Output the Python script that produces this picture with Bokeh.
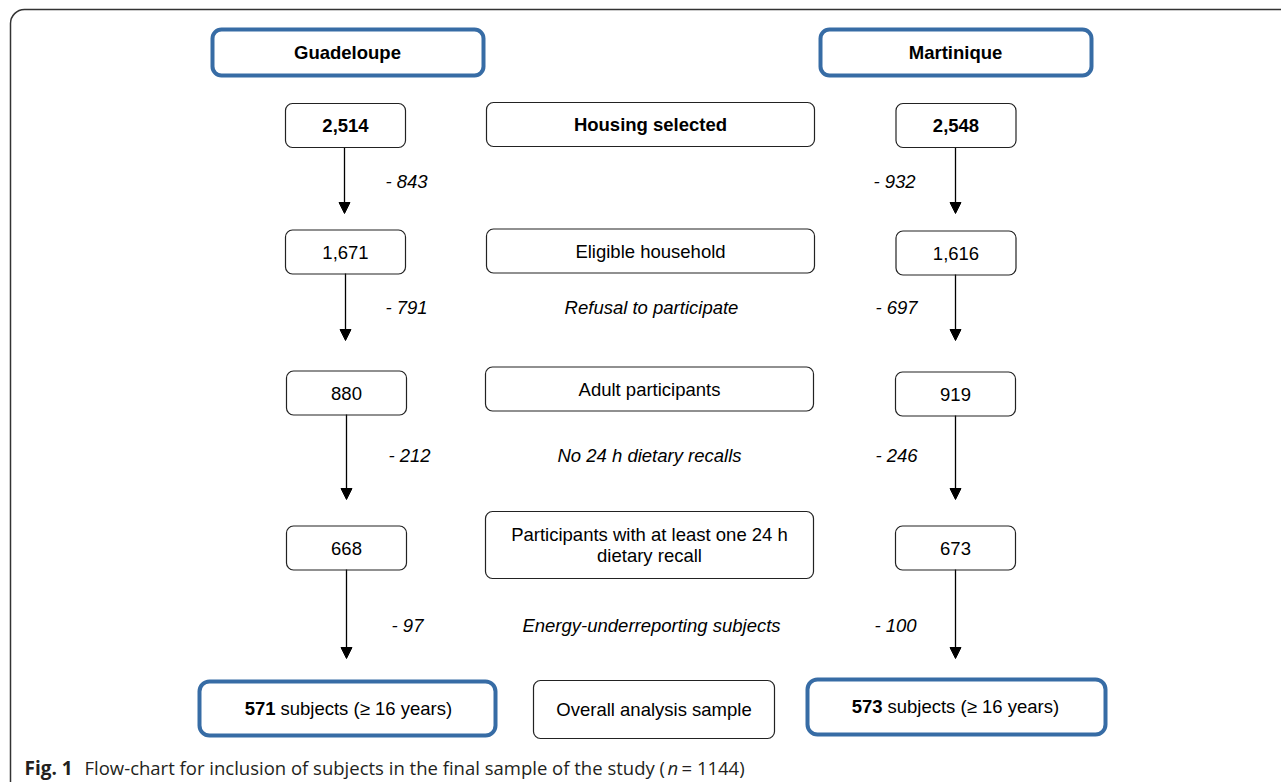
from bokeh.plotting import figure
from bokeh.models import Range1d, BoxAnnotation, Arrow, NormalHead, ColumnDataSource
from bokeh.core.properties import value
from bokeh.embed import file_html
from bokeh.resources import INLINE

# ---------------- data ----------------
regions = ["Guadeloupe", "Martinique"]
guadeloupe_counts = [2514, 1671, 880, 668, 571]
martinique_counts = [2548, 1616, 919, 673, 573]
guadeloupe_excluded = [843, 791, 212, 97]
martinique_excluded = [932, 697, 246, 100]
stage_labels = ["Housing selected", "Eligible household", "Adult participants",
                "Participants with at least one 24 h\ndietary recall", "Overall analysis sample"]
exclusion_reasons = ["", "Refusal to participate", "No 24 h dietary recalls",
                     "Energy-underreporting subjects"]
final_suffix = "subjects (\u2265 16 years)"
caption_bold = "Fig. 1"
caption_text = "Flow-chart for inclusion of subjects in the final sample of the study ("
caption_n = "n"
caption_end = "= 1144)"

# ---------------- layout (pixel-like coordinates, y downward) ----------------
W, H = 1281, 782
FONT = value("Liberation Sans")
FS = "18.5px"
BLUE = "#376ca5"

p = figure(width=W, height=H, output_backend="svg", toolbar_location=None,
           x_range=Range1d(0, W), y_range=Range1d(H, 0),
           min_border=0, outline_line_color=None, background_fill_color="white")
p.axis.visible = False
p.grid.visible = False

def box(l, r, t, b, color="#222222", lw=1.2, radius=7):
    p.add_layout(BoxAnnotation(left=l, right=r, top=t, bottom=b, fill_alpha=0,
                               fill_color=None, line_color=color, line_alpha=1.0,
                               line_width=lw, border_radius=radius, level="overlay"))

# outer frame
box(10, 1340, 9, 850, color="#333333", lw=1.5, radius=14)

# header boxes
header_x = [347, 955]
box(212, 483, 29, 75, color=BLUE, lw=4, radius=9)
box(820, 1091, 29, 75, color=BLUE, lw=4, radius=9)
p.text(x=header_x, y=[52, 52], text=regions, text_font=FONT, text_font_size=FS,
       text_font_style="bold", text_align="center", text_baseline="middle", text_color="black")

# count boxes
left_x = [345, 345, 346, 346]
left_y = [125, 251.5, 392.5, 547.5]
right_x = [955.5, 955.5, 955, 955]
right_y = [125, 252.5, 393.5, 547.5]
mid_x = [650, 650, 649, 649]
mid_y = [124, 250.5, 388.5, 544.5]
mid_h = [44, 44, 44, 67]
for i in range(4):
    box(left_x[i] - 60, left_x[i] + 60, left_y[i] - 22, left_y[i] + 22)
    box(right_x[i] - 60, right_x[i] + 60, right_y[i] - 22, right_y[i] + 22)
    box(mid_x[i] - 164, mid_x[i] + 164, mid_y[i] - mid_h[i] / 2, mid_y[i] + mid_h[i] / 2)

fmt = lambda v: f"{v:,}"
for i in range(4):
    style = "bold" if i == 0 else "normal"
    p.text(x=[left_x[i], right_x[i]], y=[left_y[i], right_y[i]],
           text=[fmt(guadeloupe_counts[i]), fmt(martinique_counts[i])],
           text_font=FONT, text_font_size=FS, text_font_style=style,
           text_align="center", text_baseline="middle", text_color="black")
    p.text(x=[mid_x[i]], y=[mid_y[i]], text=[stage_labels[i]], text_font=FONT,
           text_font_size=FS, text_font_style=style, text_align="center",
           text_baseline="middle", text_color="black", text_line_height=1.0)

# arrows
arrow_left_x = [344, 345, 346, 346]
arrow_right_x = [955, 955, 955, 955]
arrow_start = [[147, 273, 414, 569], [147, 274, 415, 569]]
arrow_end = [213, 340, 499, 658]
src = ColumnDataSource(dict(
    x0=arrow_left_x + arrow_right_x, x1=arrow_left_x + arrow_right_x,
    y0=arrow_start[0] + arrow_start[1], y1=arrow_end + arrow_end))
p.add_layout(Arrow(end=NormalHead(size=11, fill_color="black", line_color="black", line_width=1),
                   x_start="x0", y_start="y0", x_end="x1", y_end="y1", source=src,
                   line_color="black", line_width=1.3))

# exclusion numbers
excl_y = [181, 307, 455, 625]
excl_lx = [406, 406, 409, 407]
excl_rx = [894, 896, 896, 895]
p.text(x=excl_lx, y=excl_y, text=[f"- {v}" for v in guadeloupe_excluded], text_font=FONT,
       text_font_size=FS, text_font_style="italic", text_align="center",
       text_baseline="middle", text_color="black")
p.text(x=excl_rx, y=excl_y, text=[f"- {v}" for v in martinique_excluded], text_font=FONT,
       text_font_size=FS, text_font_style="italic", text_align="center",
       text_baseline="middle", text_color="black")
p.text(x=[651, 651, 649, 651], y=excl_y, text=exclusion_reasons, text_font=FONT,
       text_font_size=FS, text_font_style="italic", text_align="center",
       text_baseline="middle", text_color="black")

# final row
box(199, 495, 681, 735, color=BLUE, lw=4, radius=10)
box(807, 1105, 679, 734, color=BLUE, lw=4, radius=10)
box(533, 774, 680, 738)
p.text(x=[653.5], y=[709], text=[stage_labels[4]], text_font=FONT, text_font_size=FS,
       text_align="center", text_baseline="middle", text_color="black")
final_split = [275, 882]
final_y = [708, 706]
p.text(x=final_split, y=final_y, text=[str(guadeloupe_counts[4]), str(martinique_counts[4])],
       text_font=FONT, text_font_size=FS, text_font_style="bold", text_align="right",
       text_baseline="middle", text_color="black")
p.text(x=[s + 5 for s in final_split], y=final_y, text=[final_suffix, final_suffix], text_font=FONT,
       text_font_size=FS, text_align="left", text_baseline="middle", text_color="black")

# caption
CF = value("Open Sans")
CFS = "18.5px"
p.text(x=[24], y=[767], text=[caption_bold], text_font=CF, text_font_size="19px",
       text_font_style="bold", text_align="left", text_baseline="middle", text_color="#231f20")
p.text(x=[84], y=[767], text=[caption_text], text_font=CF, text_font_size=CFS,
       text_align="left", text_baseline="middle", text_color="#231f20")
p.text(x=[667], y=[767], text=[caption_n], text_font=CF, text_font_size=CFS,
       text_font_style="italic", text_align="left", text_baseline="middle", text_color="#231f20")
p.text(x=[681], y=[767], text=[caption_end], text_font=CF, text_font_size=CFS,
       text_align="left", text_baseline="middle", text_color="#231f20")

open("out.html", "w").write(file_html(p, INLINE))
